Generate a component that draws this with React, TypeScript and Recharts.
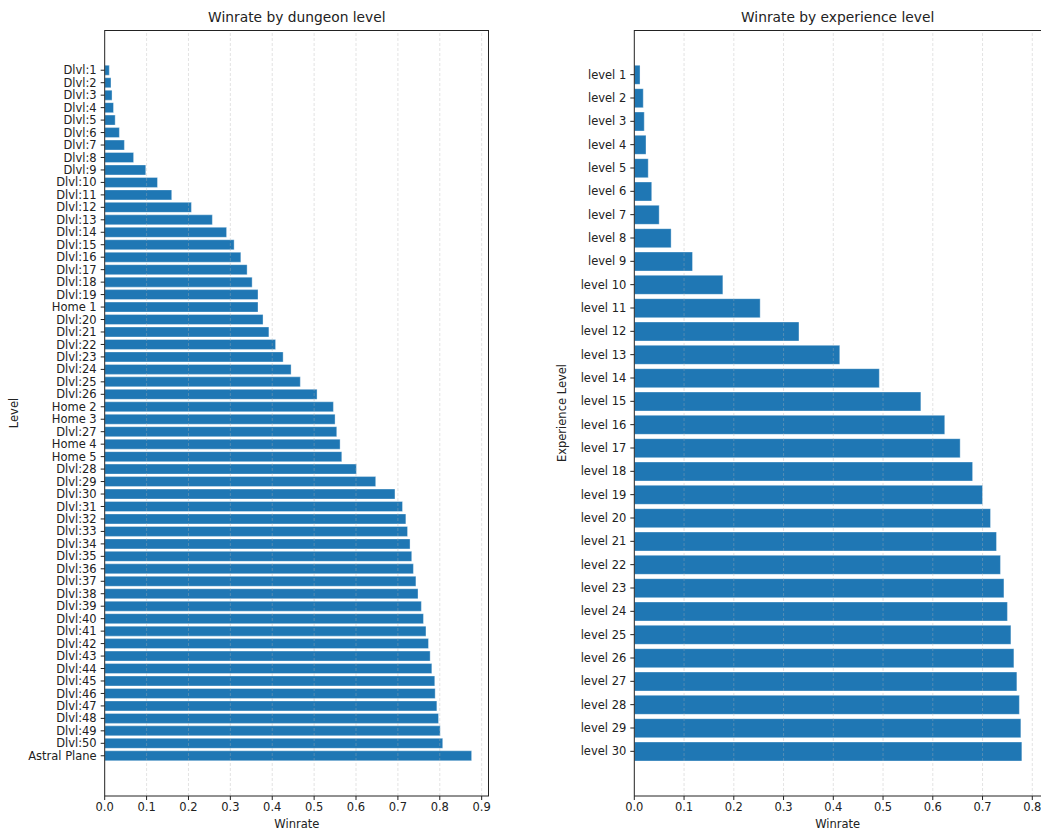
import React from 'react';
import { BarChart, Bar, XAxis, YAxis, ReferenceLine } from 'recharts';

// Dungeon levels, top to bottom
const dungeonLevels = [
  'Dlvl:1', 'Dlvl:2', 'Dlvl:3', 'Dlvl:4', 'Dlvl:5', 'Dlvl:6', 'Dlvl:7', 'Dlvl:8', 'Dlvl:9', 'Dlvl:10',
  'Dlvl:11', 'Dlvl:12', 'Dlvl:13', 'Dlvl:14', 'Dlvl:15', 'Dlvl:16', 'Dlvl:17', 'Dlvl:18', 'Dlvl:19', 'Home 1',
  'Dlvl:20', 'Dlvl:21', 'Dlvl:22', 'Dlvl:23', 'Dlvl:24', 'Dlvl:25', 'Dlvl:26', 'Home 2', 'Home 3', 'Dlvl:27',
  'Home 4', 'Home 5', 'Dlvl:28', 'Dlvl:29', 'Dlvl:30', 'Dlvl:31', 'Dlvl:32', 'Dlvl:33', 'Dlvl:34', 'Dlvl:35',
  'Dlvl:36', 'Dlvl:37', 'Dlvl:38', 'Dlvl:39', 'Dlvl:40', 'Dlvl:41', 'Dlvl:42', 'Dlvl:43', 'Dlvl:44', 'Dlvl:45',
  'Dlvl:46', 'Dlvl:47', 'Dlvl:48', 'Dlvl:49', 'Dlvl:50', 'Astral Plane',
];

const dungeonWinrates = [
  0.011, 0.015, 0.0175, 0.021, 0.025, 0.035, 0.047, 0.069, 0.098, 0.126,
  0.160, 0.207, 0.257, 0.291, 0.309, 0.325, 0.340, 0.352, 0.366, 0.366,
  0.378, 0.392, 0.408, 0.426, 0.445, 0.467, 0.507, 0.546, 0.550, 0.554,
  0.562, 0.566, 0.601, 0.647, 0.693, 0.711, 0.719, 0.723, 0.729, 0.733,
  0.737, 0.743, 0.748, 0.756, 0.761, 0.767, 0.773, 0.777, 0.781, 0.788,
  0.789, 0.793, 0.797, 0.801, 0.807, 0.876,
];

const experienceLevels = [
  'level 1', 'level 2', 'level 3', 'level 4', 'level 5', 'level 6', 'level 7', 'level 8', 'level 9', 'level 10',
  'level 11', 'level 12', 'level 13', 'level 14', 'level 15', 'level 16', 'level 17', 'level 18', 'level 19', 'level 20',
  'level 21', 'level 22', 'level 23', 'level 24', 'level 25', 'level 26', 'level 27', 'level 28', 'level 29', 'level 30',
];

const experienceWinrates = [
  0.0115, 0.018, 0.020, 0.0235, 0.028, 0.035, 0.050, 0.074, 0.117, 0.178,
  0.253, 0.331, 0.413, 0.4925, 0.576, 0.624, 0.655, 0.680, 0.700, 0.716,
  0.728, 0.736, 0.743, 0.750, 0.757, 0.763, 0.769, 0.774, 0.777, 0.779,
];

const dungeonTicks = [0, 0.1, 0.2, 0.3, 0.4, 0.5, 0.6, 0.7, 0.8, 0.9];
const experienceTicks = [0, 0.1, 0.2, 0.3, 0.4, 0.5, 0.6, 0.7, 0.8];

const dungeonData = dungeonLevels.map((name, i) => ({ name, winrate: dungeonWinrates[i] }));
const experienceData = experienceLevels.map((name, i) => ({ name, winrate: experienceWinrates[i] }));

const INK = '#222';
const FONT = "'DejaVu Sans', sans-serif";
const HEIGHT = 832;
const TOP = 30;
const XAXIS_H = 36;

const Panel = ({
  data, ticks, domainMax, left, width, rightMargin, yAxisWidth, padding, title, yLabel, yLabelX, rightSpine,
}: any) => {
  const plotLeft = left + yAxisWidth;
  const plotRight = left + width - rightMargin;
  const plotCenter = (plotLeft + plotRight) / 2;
  const plotH = HEIGHT - TOP - XAXIS_H;

  return (
    <>
      <div style={{ position: 'absolute', left, top: 0 }}>
        <BarChart
          width={width}
          height={HEIGHT}
          data={data}
          layout="vertical"
          margin={{ top: TOP, right: rightMargin, left: 0, bottom: 0 }}
          barCategoryGap="10%"
        >
          <XAxis
            type="number"
            domain={[0, domainMax]}
            ticks={ticks}
            allowDataOverflow
            tickFormatter={(v) => v.toFixed(1)}
            height={XAXIS_H}
            tickSize={4}
            tickMargin={3}
            stroke={INK}
            tick={{ fill: INK, fontSize: 11.5 }}
          />
          <YAxis
            type="category"
            dataKey="name"
            width={yAxisWidth}
            interval={0}
            tickSize={4}
            tickMargin={4}
            padding={{ top: padding, bottom: padding }}
            stroke={INK}
            tick={{ fill: INK, fontSize: 11.5 }}
          />
          <Bar
            dataKey="winrate"
            fill="#1f77b4"
            stroke="#ffffff"
            strokeOpacity={0.35}
            strokeWidth={1}
            isAnimationActive={false}
          />
          {ticks.slice(1).map((t: number) => (
            <ReferenceLine key={t} x={t} stroke="#b0b0b0" strokeOpacity={0.45} strokeDasharray="3 2" strokeWidth={0.8} />
          ))}
        </BarChart>
      </div>
      {/* frame: top and right spines */}
      <div
        style={{
          position: 'absolute',
          left: plotLeft,
          top: TOP,
          width: plotRight - plotLeft,
          height: plotH,
          boxSizing: 'border-box',
          borderTop: `1px solid ${INK}`,
          borderRight: rightSpine ? `1px solid ${INK}` : 'none',
          pointerEvents: 'none',
        }}
      />
      <div
        style={{
          position: 'absolute', left: plotCenter, top: 18, transform: 'translate(-50%, -50%)',
          fontSize: 13.8, color: INK, whiteSpace: 'nowrap', lineHeight: 1,
        }}
      >
        {title}
      </div>
      <div
        style={{
          position: 'absolute', left: plotCenter, top: 825, transform: 'translate(-50%, -50%)',
          fontSize: 11.5, color: INK, whiteSpace: 'nowrap', lineHeight: 1,
        }}
      >
        Winrate
      </div>
      <div
        style={{
          position: 'absolute', left: yLabelX, top: TOP + plotH / 2,
          transform: 'translate(-50%, -50%) rotate(-90deg)',
          fontSize: 11.5, color: INK, whiteSpace: 'nowrap', lineHeight: 1,
        }}
      >
        {yLabel}
      </div>
    </>
  );
};

export default function App() {
  return (
    <div
      style={{
        position: 'absolute', left: 0, top: 0, width: 1041, height: HEIGHT,
        overflow: 'hidden', background: '#fff', fontFamily: FONT,
      }}
    >
      <Panel
        data={dungeonData}
        ticks={dungeonTicks}
        domainMax={0.9175}
        left={0}
        width={520}
        rightMargin={31}
        yAxisWidth={104.7}
        padding={34}
        title="Winrate by dungeon level"
        yLabel="Level"
        yLabelX={15}
        rightSpine
      />
      <Panel
        data={experienceData}
        ticks={experienceTicks}
        domainMax={0.8175}
        left={540}
        width={501}
        rightMargin={0}
        yAxisWidth={94.3}
        padding={33}
        title="Winrate by experience level"
        yLabel="Experience Level"
        yLabelX={563}
        rightSpine={false}
      />
    </div>
  );
}
